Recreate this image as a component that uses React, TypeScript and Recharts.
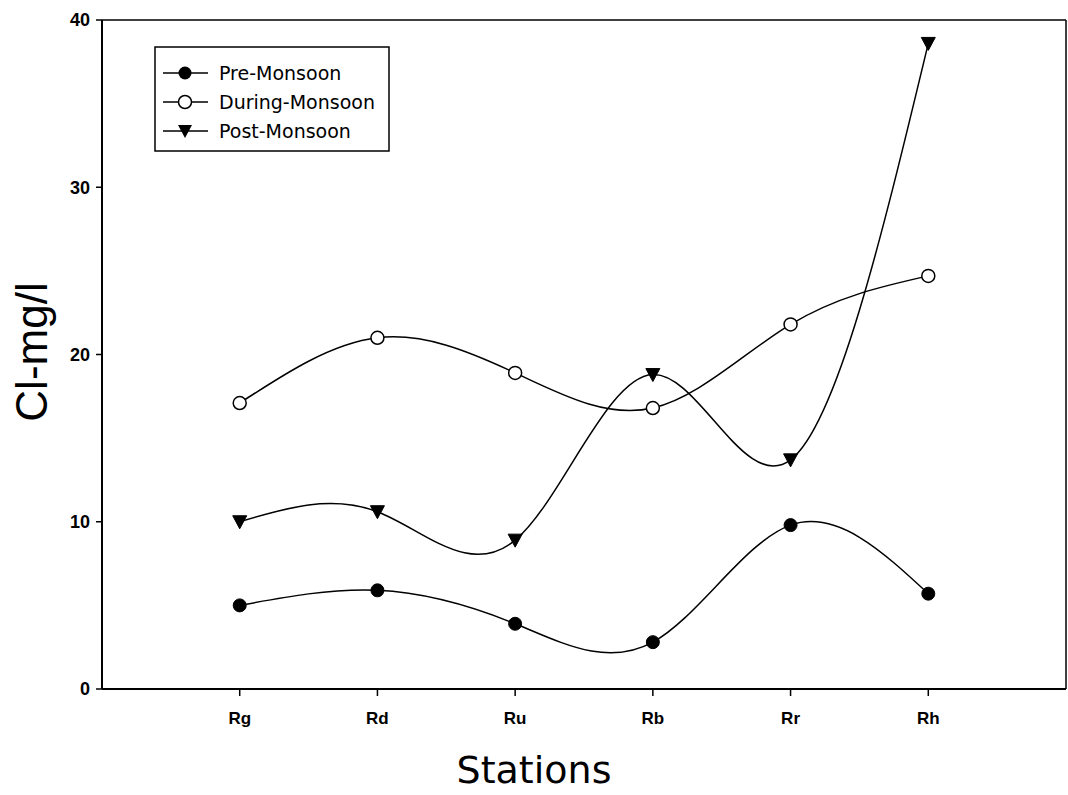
import React from 'react';
import { LineChart, Line, XAxis, YAxis, ReferenceLine, Legend, Label } from 'recharts';

const categories = ['Rg', 'Rd', 'Ru', 'Rb', 'Rr', 'Rh'];
const preMonsoon = [5.0, 5.9, 3.9, 2.8, 9.8, 5.7];
const duringMonsoon = [17.1, 21.0, 18.9, 16.8, 21.8, 24.7];
const postMonsoon = [10.0, 10.6, 8.9, 18.8, 13.7, 38.6];
const yTicks = [0, 10, 20, 30, 40];
const xTicks = [1, 2, 3, 4, 5, 6];

const data = categories.map((c, i) => ({
  x: i + 1,
  name: c,
  pre: preMonsoon[i],
  during: duringMonsoon[i],
  post: postMonsoon[i],
}));

const TriangleDot = (props: any) => {
  const { cx, cy, index } = props;
  if (cx == null || cy == null) return null;
  return (
    <path
      key={`tri-${index}`}
      d={`M${cx - 7},${cy - 6} L${cx + 7},${cy - 6} L${cx},${cy + 7} Z`}
      fill="#000"
      stroke="#000"
      strokeWidth={1}
    />
  );
};

const LegendBox = () => {
  const rows = [
    { label: 'Pre-Monsoon', kind: 'filled' },
    { label: 'During-Monsoon', kind: 'open' },
    { label: 'Post-Monsoon', kind: 'tri' },
  ];
  return (
    <svg width={236} height={106} style={{ display: 'block' }}>
      <rect x={1} y={1} width={234} height={104} fill="#fff" stroke="#000" strokeWidth={1.5} />
      {rows.map((r, i) => {
        const cy = 27 + i * 29;
        const mx = 31;
        return (
          <g key={r.label}>
            <line x1={9} x2={54} y1={cy} y2={cy} stroke="#000" strokeWidth={1.5} />
            {r.kind === 'filled' && <circle cx={mx} cy={cy} r={6.5} fill="#000" />}
            {r.kind === 'open' && <circle cx={mx} cy={cy} r={6.5} fill="#fff" stroke="#000" strokeWidth={1.5} />}
            {r.kind === 'tri' && (
              <path d={`M${mx - 7},${cy - 6} L${mx + 7},${cy - 6} L${mx},${cy + 7} Z`} fill="#000" />
            )}
            <text x={65} y={cy + 7} fontFamily="'DejaVu Sans', Verdana, sans-serif" fontSize={19} fill="#000">
              {r.label}
            </text>
          </g>
        );
      })}
    </svg>
  );
};

export default function App() {
  return (
    <div style={{ position: 'absolute', left: 0, top: 0, width: 1068, height: 795, background: '#fff' }}>
      <LineChart width={1068} height={795} data={data} margin={{ top: 20, right: 2, bottom: 0, left: 42 }}>
        <XAxis
          dataKey="x"
          type="number"
          domain={[0, 7]}
          ticks={xTicks}
          allowDataOverflow
          tickFormatter={(v: number) => categories[v - 1] ?? ''}
          height={106}
          tickSize={7}
          tickMargin={16}
          axisLine={{ stroke: '#000', strokeWidth: 2 }}
          tickLine={{ stroke: '#000', strokeWidth: 1.5 }}
          tick={{ fill: '#000', fontSize: 17, fontWeight: 'bold', fontFamily: "'Liberation Sans', Arial, sans-serif" }}
        >
          <Label
            content={() => (
              <text x={534} y={783} textAnchor="middle" fontFamily="'DejaVu Sans', Verdana, sans-serif" fontSize={38} fill="#000">
                Stations
              </text>
            )}
          />
        </XAxis>
        <YAxis
          type="number"
          domain={[0, 40]}
          ticks={yTicks}
          width={60}
          tickSize={6}
          tickMargin={6}
          axisLine={{ stroke: '#000', strokeWidth: 2 }}
          tickLine={{ stroke: '#000', strokeWidth: 1.5 }}
          tick={{ fill: '#000', fontSize: 18, fontWeight: 'bold', fontFamily: "'Liberation Sans', Arial, sans-serif" }}
        >
          <Label
            content={() => (
              <text
                x={47}
                y={352}
                textAnchor="middle"
                transform="rotate(-90, 47, 352)"
                fontFamily="'Liberation Sans', Arial, sans-serif"
                fontSize={44}
                fill="#000"
              >
                Cl-mg/l
              </text>
            )}
          />
        </YAxis>
        <ReferenceLine y={40} stroke="#000" strokeWidth={1.5} ifOverflow="visible" />
        <ReferenceLine x={7} stroke="#000" strokeWidth={1.5} ifOverflow="visible" />
        <Legend
          layout="horizontal"
          verticalAlign="middle"
          align="center"
          content={() => <LegendBox />}
          wrapperStyle={{ position: 'absolute', left: 154, top: 46, width: 236, height: 106 }}
        />
        <Line
          type="natural"
          dataKey="pre"
          stroke="#000"
          strokeWidth={1.5}
          dot={{ r: 6.5, fill: '#000', stroke: '#000', strokeWidth: 1 }}
          isAnimationActive={false}
        />
        <Line
          type="natural"
          dataKey="during"
          stroke="#000"
          strokeWidth={1.5}
          dot={{ r: 6.5, fill: '#fff', stroke: '#000', strokeWidth: 1.5 }}
          isAnimationActive={false}
        />
        <Line
          type="natural"
          dataKey="post"
          stroke="#000"
          strokeWidth={1.5}
          dot={TriangleDot}
          isAnimationActive={false}
        />
      </LineChart>
    </div>
  );
}
